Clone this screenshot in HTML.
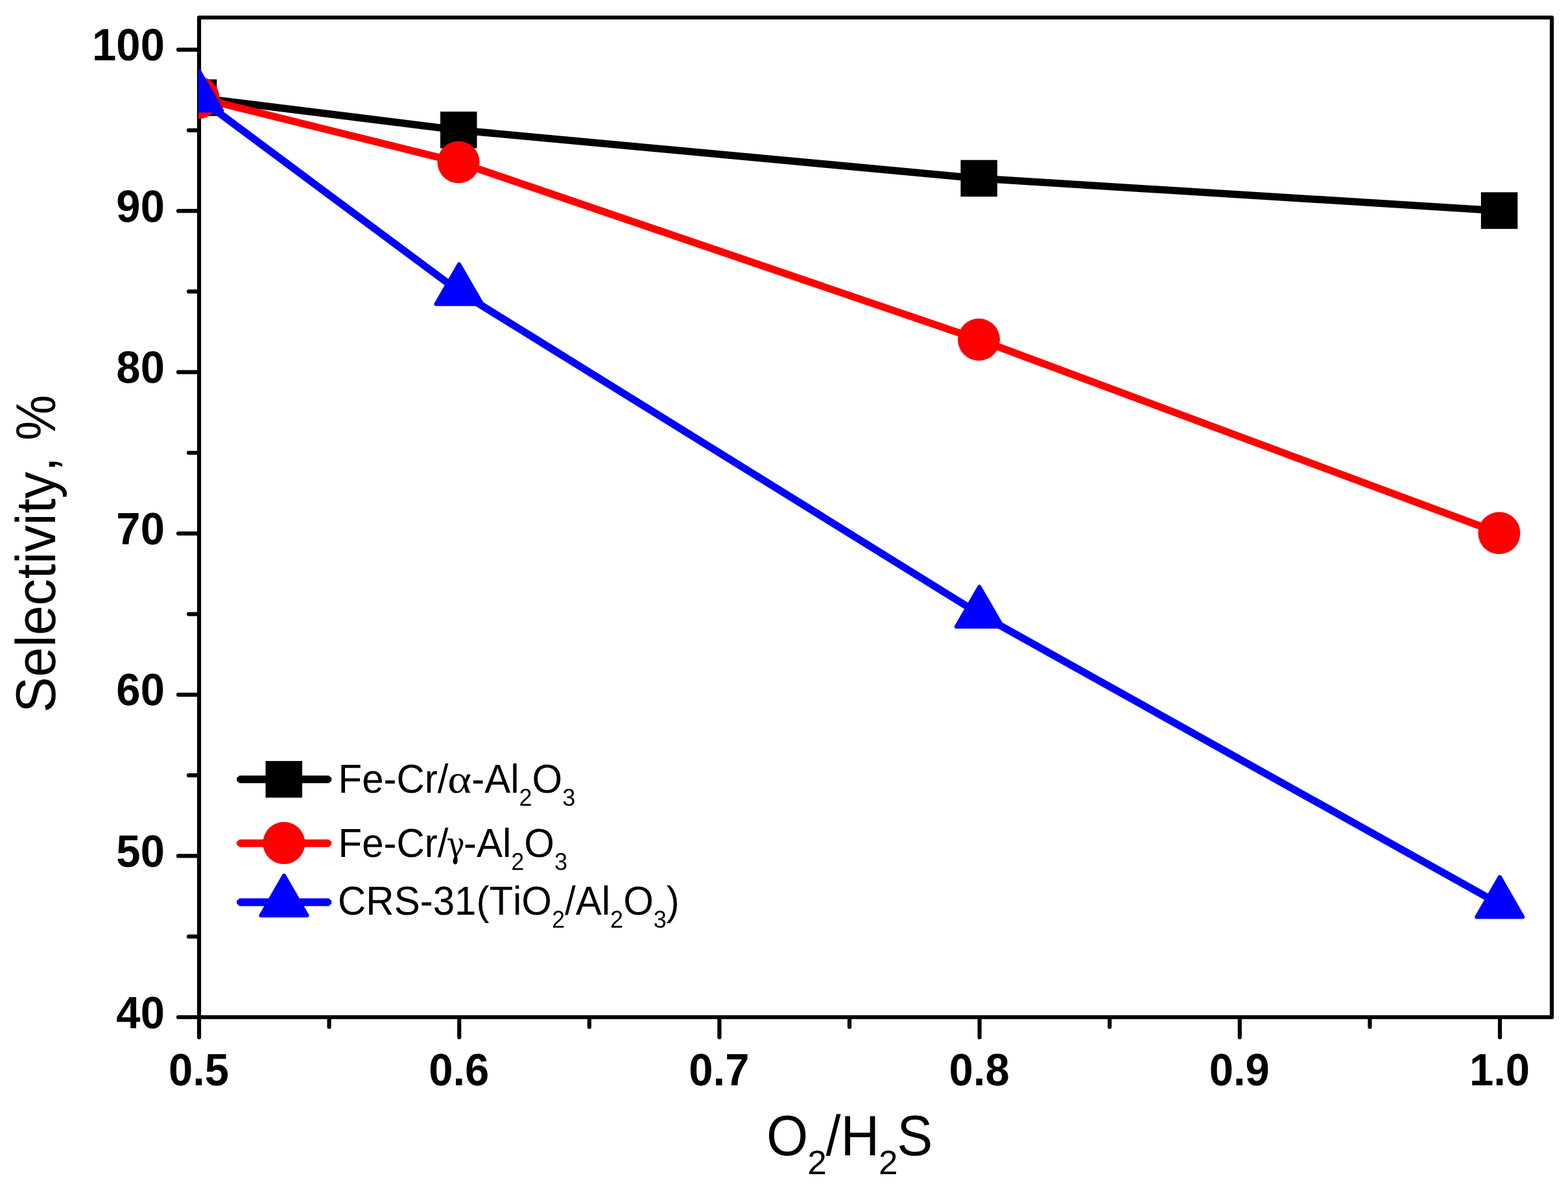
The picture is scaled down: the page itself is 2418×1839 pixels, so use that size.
<!DOCTYPE html>
<html lang="en">
<head>
<meta charset="utf-8">
<title>Selectivity vs O2/H2S</title>
<style>
html,body{margin:0;padding:0;background:#fff;}
body{width:2418px;height:1839px;overflow:hidden;}
svg{display:block;}
text{font-family:"Liberation Sans", sans-serif;fill:#000;font-kerning:none;font-variant-ligatures:none;text-rendering:geometricPrecision;}
.tick{font-weight:bold;font-size:67px;}
.title{font-size:84px;}
.leg{font-size:60px;}
.sub{font-size:36px;}
.tsub{font-size:50px;}
.sym{font-family:"Liberation Serif", "DejaVu Serif", serif;}
.sym2{font-family:"DejaVu Serif", "Liberation Serif", serif;}
</style>
</head>
<body>
<svg width="2418" height="1839" viewBox="0 0 2418 1839">
<defs><clipPath id="plotclip"><rect x="306" y="24" width="2090" height="1547"/></clipPath></defs>
<rect x="0" y="0" width="2418" height="1839" fill="#ffffff"/>
<g id="axes" fill="none" stroke="#000" stroke-width="6.2" stroke-linecap="round" stroke-linejoin="round">
<rect x="307" y="27" width="2086" height="1541"/>
<path d="M307.00 1568.00H275.00M307.00 1443.71H291.00M307.00 1319.43H275.00M307.00 1195.14H291.00M307.00 1070.86H275.00M307.00 946.58H291.00M307.00 822.29H275.00M307.00 698.00H291.00M307.00 573.72H275.00M307.00 449.43H291.00M307.00 325.15H275.00M307.00 200.87H291.00M307.00 76.58H275.00M307.00 1568.00V1599.00M507.60 1568.00V1583.00M708.20 1568.00V1599.00M908.80 1568.00V1583.00M1109.40 1568.00V1599.00M1310.00 1568.00V1583.00M1510.60 1568.00V1599.00M1711.20 1568.00V1583.00M1911.80 1568.00V1599.00M2112.40 1568.00V1583.00M2313.00 1568.00V1599.00"/>
</g>
<g id="data" clip-path="url(#plotclip)">
<polyline points="306.40,150.80 707.60,200.52 1510.00,275.09 2312.40,324.80" fill="none" stroke="#000000" stroke-width="11.3" stroke-linejoin="round" stroke-linecap="butt"/>
<rect x="277.80" y="122.35" width="56.5" height="56.5" fill="#000000"/>
<rect x="679.00" y="172.06" width="56.5" height="56.5" fill="#000000"/>
<rect x="1481.40" y="246.64" width="56.5" height="56.5" fill="#000000"/>
<rect x="2283.80" y="296.35" width="56.5" height="56.5" fill="#000000"/>
<polyline points="306.40,150.80 707.60,250.23 1510.00,523.66 2312.40,821.94" fill="none" stroke="#ff0000" stroke-width="11.3" stroke-linejoin="round" stroke-linecap="butt"/>
<circle cx="305.90" cy="150.65" r="32.5" fill="#ff0000"/>
<circle cx="707.10" cy="250.08" r="32.5" fill="#ff0000"/>
<circle cx="1509.50" cy="523.51" r="32.5" fill="#ff0000"/>
<circle cx="2311.90" cy="821.79" r="32.5" fill="#ff0000"/>
<polyline points="306.40,150.80 707.60,449.08 1510.00,946.23 2312.40,1393.65" fill="none" stroke="#0000ff" stroke-width="11.3" stroke-linejoin="round" stroke-linecap="butt"/>
<path d="M306.75 108.98L342.31 170.58L271.19 170.58Z" fill="#0000ff" stroke="#0000ff" stroke-width="6" stroke-linejoin="round"/>
<path d="M707.95 407.27L743.51 468.87L672.39 468.87Z" fill="#0000ff" stroke="#0000ff" stroke-width="6" stroke-linejoin="round"/>
<path d="M1510.35 904.41L1545.91 966.01L1474.79 966.01Z" fill="#0000ff" stroke="#0000ff" stroke-width="6" stroke-linejoin="round"/>
<path d="M2312.75 1351.83L2348.31 1413.43L2277.19 1413.43Z" fill="#0000ff" stroke="#0000ff" stroke-width="6" stroke-linejoin="round"/>
</g>
<g id="legend-symbols">
<polygon points="369.40,1195.45 507.00,1195.45 511.20,1199.05 511.20,1203.65 507.00,1207.25 369.40,1207.25 365.20,1203.65 365.20,1199.05" fill="#000000"/>
<rect x="409.55" y="1173.10" width="56.5" height="56.5" fill="#000000"/>
<polygon points="369.40,1293.90 507.00,1293.90 511.20,1297.50 511.20,1302.10 507.00,1305.70 369.40,1305.70 365.20,1302.10 365.20,1297.50" fill="#ff0000"/>
<circle cx="437.90" cy="1299.60" r="32.5" fill="#ff0000"/>
<polygon points="369.40,1384.85 507.00,1384.85 511.20,1388.45 511.20,1393.05 507.00,1396.65 369.40,1396.65 365.20,1393.05 365.20,1388.45" fill="#0000ff"/>
<path d="M438.00 1349.58L473.56 1411.18L402.44 1411.18Z" fill="#0000ff" stroke="#0000ff" stroke-width="6" stroke-linejoin="round"/>
</g>
<g id="ytick-labels">
<text class="tick" transform="translate(253.90 1584.60) scale(1 1.04)" text-anchor="end">40</text>
<text class="tick" transform="translate(253.90 1336.03) scale(1 1.04)" text-anchor="end">50</text>
<text class="tick" transform="translate(253.90 1087.46) scale(1 1.04)" text-anchor="end">60</text>
<text class="tick" transform="translate(253.90 838.89) scale(1 1.04)" text-anchor="end">70</text>
<text class="tick" transform="translate(253.90 590.32) scale(1 1.04)" text-anchor="end">80</text>
<text class="tick" transform="translate(253.90 341.75) scale(1 1.04)" text-anchor="end">90</text>
<text class="tick" transform="translate(253.90 93.18) scale(1 1.04)" text-anchor="end">100</text>
</g>
<g id="xtick-labels">
<text class="tick" transform="translate(306.50 1673.30) scale(1 1.04)" text-anchor="middle">0.5</text>
<text class="tick" transform="translate(707.70 1673.30) scale(1 1.04)" text-anchor="middle">0.6</text>
<text class="tick" transform="translate(1108.90 1673.30) scale(1 1.04)" text-anchor="middle">0.7</text>
<text class="tick" transform="translate(1510.10 1673.30) scale(1 1.04)" text-anchor="middle">0.8</text>
<text class="tick" transform="translate(1911.30 1673.30) scale(1 1.04)" text-anchor="middle">0.9</text>
<text class="tick" transform="translate(2312.50 1673.30) scale(1 1.04)" text-anchor="middle">1.0</text>
</g>
<g id="axis-titles">
<text class="title" transform="translate(85.00 1098.50) rotate(-90) scale(0.982 1.03)" text-anchor="start">Selectivity, <tspan dx="2.4" textLength="71.6" lengthAdjust="spacingAndGlyphs">%</tspan></text>
<text class="title" transform="translate(1182.00 1780.80) scale(0.982 1.047)" text-anchor="start">O<tspan class="tsub" dx="-1" dy="28" textLength="30" lengthAdjust="spacingAndGlyphs">2</tspan><tspan dx="-1.2" dy="-28">/H</tspan><tspan class="tsub" dx="-1" dy="28" textLength="30" lengthAdjust="spacingAndGlyphs">2</tspan><tspan dx="-1.2" dy="-28">S</tspan></text>
</g>
<g id="legend-text">
<text class="leg" transform="translate(521.50 1221.70) scale(1 1.04)" text-anchor="start">Fe-Cr/<tspan class="sym" font-size="59" dx="-1.3" textLength="37" lengthAdjust="spacingAndGlyphs">α</tspan>-Al<tspan class="sub" dy="19.6">2</tspan><tspan dy="-19.6">O</tspan><tspan class="sub" dy="19.6">3</tspan></text>
<text class="leg" transform="translate(521.50 1320.50) scale(1 1.04)" text-anchor="start">Fe-Cr/<tspan class="sym2" font-size="53" dx="-3" textLength="28.2" lengthAdjust="spacingAndGlyphs">γ</tspan><tspan dx="-1.7">-Al</tspan><tspan class="sub" dy="19.6">2</tspan><tspan dy="-19.6">O</tspan><tspan class="sub" dy="19.6">3</tspan></text>
<text class="leg" transform="translate(521.00 1409.70) scale(1 1.04)" text-anchor="start">CRS-31(TiO<tspan class="sub" dy="19.6">2</tspan><tspan dy="-19.6">/Al</tspan><tspan class="sub" dy="19.6">2</tspan><tspan dy="-19.6">O</tspan><tspan class="sub" dy="19.6">3</tspan><tspan dy="-19.6">)</tspan></text>
</g>
</svg>
</body>
</html>
